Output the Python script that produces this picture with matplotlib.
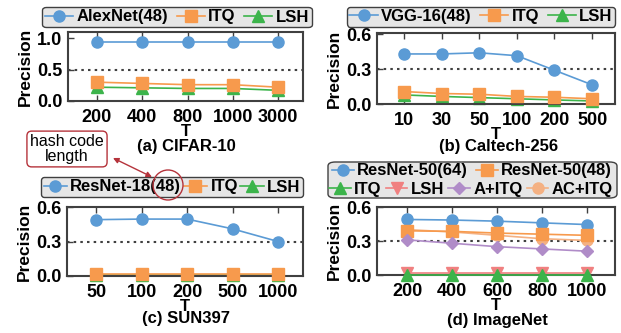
import matplotlib.pyplot as plt
from matplotlib.patches import FancyBboxPatch, Ellipse

plt.rcParams['font.family'] = ['Liberation Sans', 'DejaVu Sans']
plt.rcParams['font.weight'] = 'bold'

# ---- data ----
cifar_T = ['200', '400', '800', '1000', '3000']
cifar_alexnet = [0.94, 0.94, 0.94, 0.94, 0.94]
cifar_itq = [0.30, 0.28, 0.26, 0.26, 0.22]
cifar_lsh = [0.22, 0.21, 0.20, 0.20, 0.17]

caltech_T = ['10', '30', '50', '100', '200', '500']
caltech_vgg = [0.43, 0.43, 0.44, 0.415, 0.29, 0.165]
caltech_itq = [0.107, 0.09, 0.084, 0.065, 0.058, 0.045]
caltech_lsh = [0.078, 0.065, 0.055, 0.045, 0.035, 0.026]

sun_T = ['50', '100', '200', '500', '1000']
sun_resnet18 = [0.49, 0.495, 0.495, 0.41, 0.30]
sun_itq = [0.02, 0.02, 0.02, 0.02, 0.02]
sun_lsh = [0.01, 0.01, 0.01, 0.01, 0.01]

imnet_T = ['200', '400', '600', '800', '1000']
imnet_r50_64 = [0.49, 0.485, 0.475, 0.46, 0.445]
imnet_r50_48 = [0.39, 0.385, 0.37, 0.36, 0.35]
imnet_itq = [0.0, 0.0, 0.0, 0.0, 0.0]
imnet_lsh = [0.015, 0.015, 0.015, 0.015, 0.015]
imnet_aitq = [0.31, 0.28, 0.25, 0.23, 0.21]
imnet_acitq = [0.40, 0.38, 0.35, 0.32, 0.305]

BLUE = '#5b9bd5'
ORANGE = '#f79a4d'
GREEN = '#3cb44b'
PINK = '#f08080'
PURPLE = '#b08cc8'
LORANGE = '#f4b183'
FRAME = '#404040'
LEGBG = '#e6e6e6'

W, H = 621, 333
fig = plt.figure(figsize=(W / 100, H / 100), dpi=100)


def px_axes(left, top, right, bottom):
    return fig.add_axes([left / W, 1 - bottom / H, (right - left) / W, (bottom - top) / H])


def fxy(x, y):
    return (x / W, 1 - y / H)


def style(ax, labels, xlim, ylim, yticks, yticklabels, dotted):
    ax.set_xticks(range(len(labels)))
    ax.set_xticklabels(labels)
    ax.set_xlim(*xlim)
    ax.set_ylim(*ylim)
    ax.set_yticks(yticks)
    ax.set_yticklabels(yticklabels)
    ax.axhline(dotted, color='#404040', ls=(0, (1.2, 2)), lw=1.5, zorder=1)
    ax.tick_params(direction='in', top=True, labelsize=13, pad=4, length=4,
                   color=FRAME, width=1)
    ax.tick_params(axis='x', pad=6)
    for s in ax.spines.values():
        s.set_color(FRAME)
        s.set_linewidth(1.5)
    ax.set_xlabel('T', fontsize=12, fontweight='bold', labelpad=-2)
    ax.set_ylabel('Precision', fontsize=12.5, fontweight='bold', labelpad=3)


def series(ax, y, color, marker, ms=8, z=3):
    return ax.plot(range(len(y)), y, color=color, marker=marker, ms=ms, lw=1.2,
                   clip_on=False, zorder=z)[0]


def legend(ax, handles, labels, cx, cy, ncol, frame=True, hl=1.5, cs=0.3):
    leg = ax.legend(handles, labels, loc='center', ncol=ncol,
                    bbox_to_anchor=fxy(cx, cy), bbox_transform=fig.transFigure,
                    fontsize=12, handlelength=hl, handletextpad=0.2,
                    columnspacing=cs, borderpad=0.15, borderaxespad=0,
                    fancybox=True, framealpha=1, facecolor=LEGBG,
                    edgecolor=FRAME, frameon=frame)
    leg.get_frame().set_linewidth(1.0)
    return leg


def subtitle(x, y, s):
    fig.text(x / W, 1 - y / H, s, ha='center', va='center', fontsize=12)


# (a) CIFAR-10
ax = px_axes(68, 32, 303, 101)
h1 = series(ax, cifar_alexnet, BLUE, 'o')
h2 = series(ax, cifar_itq, ORANGE, 's')
h3 = series(ax, cifar_lsh, GREEN, '^', z=2)
style(ax, cifar_T, (-0.64, 4.55), (0, 1.1), [0, 0.5, 1.0], ['0.0', '0.5', '1.0'], 0.5)
legend(ax, [h1, h2, h3], ['AlexNet(48)', 'ITQ', 'LSH'], 177, 17, 3, hl=1.7, cs=0.5)
subtitle(186, 147, '(a) CIFAR-10')

# (b) Caltech-256
ax = px_axes(377, 33, 615, 104)
h1 = series(ax, caltech_vgg, BLUE, 'o')
h2 = series(ax, caltech_itq, ORANGE, 's')
h3 = series(ax, caltech_lsh, GREEN, '^', z=2)
style(ax, caltech_T, (-0.72, 5.61), (0, 0.61), [0, 0.3, 0.6], ['0.0', '0.3', '0.6'], 0.3)
legend(ax, [h1, h2, h3], ['VGG-16(48)', 'ITQ', 'LSH'], 481, 16.5, 3, hl=1.7, cs=0.5)
subtitle(499, 147, '(b) Caltech-256')

# (c) SUN397
ax = px_axes(67, 207, 303, 276)
h1 = series(ax, sun_resnet18, BLUE, 'o')
h2 = series(ax, sun_itq, ORANGE, 's')
h3 = series(ax, sun_lsh, GREEN, '^', z=2)
style(ax, sun_T, (-0.64, 4.55), (0, 0.6), [0, 0.3, 0.6], ['0.0', '0.3', '0.6'], 0.3)
legend(ax, [h1, h2, h3], ['ResNet-18(48)', 'ITQ', 'LSH'], 172, 187, 3, hl=1.4, cs=0.15)
subtitle(186, 319, '(c) SUN397')

# (d) ImageNet
ax = px_axes(377, 207, 615, 275)
h1 = series(ax, imnet_r50_64, BLUE, 'o')
h2 = series(ax, imnet_r50_48, ORANGE, 's')
h6 = series(ax, imnet_acitq, LORANGE, 'o', z=2)
h5 = series(ax, imnet_aitq, PURPLE, 'D', ms=6.5)
h4 = series(ax, imnet_lsh, PINK, 'v', z=2)
h3 = series(ax, imnet_itq, GREEN, '^', z=3)
style(ax, imnet_T, (-0.67, 4.62), (0, 0.6), [0, 0.3, 0.6], ['0.0', '0.3', '0.6'], 0.3)
box = FancyBboxPatch(fxy(328, 198), 289 / W, 36 / H,
                     boxstyle='round,pad=0,rounding_size=0.012', transform=fig.transFigure,
                     facecolor=LEGBG, edgecolor=FRAME, lw=1.0, zorder=4, clip_on=False)
ax.add_patch(box)
top = legend(ax, [h1, h2], ['ResNet-50(64)', 'ResNet-50(48)'], 472, 171, 2,
             frame=False, hl=1.3, cs=0.5)
ax.add_artist(top)
legend(ax, [h3, h4, h5, h6], ['ITQ', 'LSH', 'A+ITQ', 'AC+ITQ'], 471, 189.5, 4,
       frame=False, hl=1.3, cs=0.25)
subtitle(497, 320, '(d) ImageNet')

# annotation
RED = '#b5333b'
fig.text(67 / W, 1 - 149 / H, 'hash code\nlength', ha='center', va='center',
         fontsize=11.5, fontweight='normal', linespacing=0.95,
         bbox=dict(boxstyle='round,pad=0.2,rounding_size=0.3', fc='white', ec=RED, lw=1.0))
fig.patches.append(Ellipse(fxy(168, 185), 30 / W, 30 / H, transform=fig.transFigure,
                           fill=False, ec=RED, lw=1.0, zorder=10))
fig.add_artist(plt.Annotation('', xy=fxy(152, 177), xytext=fxy(113, 158),
                              xycoords='figure fraction', textcoords='figure fraction',
                              arrowprops=dict(arrowstyle='<|-|>', color=RED, lw=1.0,
                                              mutation_scale=8, shrinkA=0, shrinkB=0)))

fig.savefig('out.png', dpi=100)
